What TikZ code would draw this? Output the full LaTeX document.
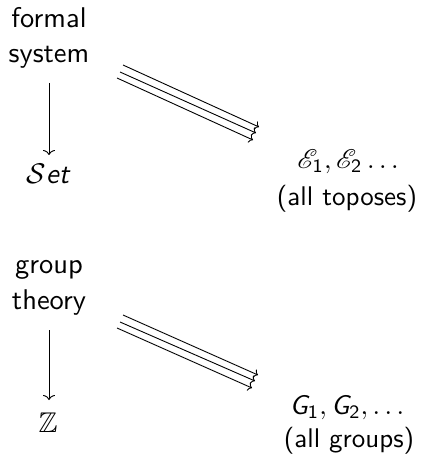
\documentclass[tikz,border=0pt]{standalone}
\usepackage{amsmath,amssymb,mathrsfs}
\usetikzlibrary{arrows.meta}
\tikzset{
  lbl/.style={inner sep=0pt, outer sep=0pt, font=\sffamily, scale=2.7, transform shape},
  lblL/.style={inner sep=0pt, outer sep=0pt, font=\sffamily, scale=2.85, transform shape},
  lbl2/.style={lblL, align=center, font=\sffamily\fontsize{10}{12.5}\selectfont},
  vert/.style={line width=0.9pt, -{To[length=5pt,width=12pt]}},
  par/.style={line width=0.9pt, -{To[length=4pt,width=9pt]}}
}
\begin{document}
\begin{tikzpicture}[x=1pt,y=-1pt]
\useasboundingbox (0,0) rectangle (430,454);
% top half
\node[lbl2] (fs) at (49,38) {formal\\system};
\node[lblL,anchor=base] (set) at (48,183) {$\mathcal{S}\text{\itshape et}$};
\node[lbl,anchor=base] (E) at (348,168) {$\mathscr{E}_{\text{1}},\mathscr{E}_{\text{2}}\ldots$};
\node[lbl,anchor=base] (toposes) at (347,205) {(all toposes)};
\coordinate (a1) at (49,83);
\coordinate (a2) at (49,155);
\draw[vert] (a1) -- (a2);
\coordinate (p1s) at (123,65); \coordinate (p1e) at (259,127);
\coordinate (p2s) at (120,72); \coordinate (p2e) at (256,133);
\coordinate (p3s) at (117,78); \coordinate (p3e) at (253,140);
\draw[par] (p1s) -- (p1e);
\draw[par] (p2s) -- (p2e);
\draw[par] (p3s) -- (p3e);
% bottom half
\node[lbl2] (gt) at (49,288) {group\\theory};
\node[lblL,anchor=base] (Z) at (48,432) {$\mathbb{Z}$};
\node[lbl,anchor=base] (G) at (347,414) {$\text{\itshape G}_{\text{1}},\text{\itshape G}_{\text{2}},\ldots$};
\node[lbl,anchor=base] (groups) at (349,447) {(all groups)};
\coordinate (b1) at (49,330);
\coordinate (b2) at (49,400);
\draw[vert] (b1) -- (b2);
\coordinate (q1s) at (123,315); \coordinate (q1e) at (258,375);
\coordinate (q2s) at (120,322); \coordinate (q2e) at (255,381);
\coordinate (q3s) at (117,328); \coordinate (q3e) at (252,388);
\draw[par] (q1s) -- (q1e);
\draw[par] (q2s) -- (q2e);
\draw[par] (q3s) -- (q3e);
\end{tikzpicture}
\end{document}
